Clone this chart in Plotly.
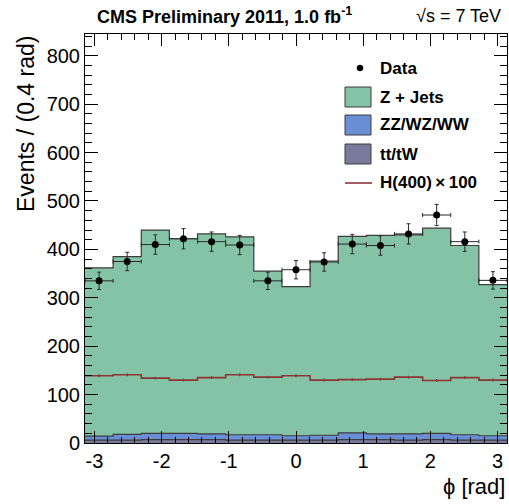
import numpy as np
import plotly.graph_objects as go

# 15 bins in phi over [-pi, pi]
n_bins = 15
edges = np.linspace(-np.pi, np.pi, n_bins + 1)
centers = 0.5 * (edges[:-1] + edges[1:])
half_w = 0.5 * (edges[1] - edges[0])

# Observed events per bin and their statistical errors
data_counts = [335, 375, 410, 422, 416, 409, 335, 358, 374, 411, 408, 432, 471, 416, 336]
data_errors = [18, 19, 20, 21, 20, 20, 18, 19, 19, 20, 20, 21, 22, 20, 18]

# Background predictions per bin
ttbar_tw = [6, 6, 7, 7, 7, 6, 6, 6, 6, 7, 7, 6, 7, 6, 6]
diboson = [8, 12, 13, 13, 12, 11, 11, 9, 10, 14, 12, 13, 13, 11, 9]
z_jets = [348, 367, 420, 402, 413, 409, 338, 308, 360, 406, 410, 411, 424, 391, 312]

# Higgs (m = 400 GeV) signal, scaled by 100
higgs_x100 = [139, 141, 134, 130, 135, 141, 136, 139, 130, 131, 132, 136, 129, 135, 130]
higgs_err = [3, 3, 3, 3, 3, 3, 3, 3, 3, 3, 3, 3, 3, 3, 3]

# Axis tick labels
x_tick_vals = [-3, -2, -1, 0, 1, 2, 3]
x_tick_text = ["-3", "-2", "-1", "0", "1", "2", "3"]

labels = ["Data", "Z + Jets", "ZZ/WZ/WW", "tt/tW", "H(400)\u2009\u00d7\u2009100"]

C_ZJ = "#84c3a5"
C_VV = "#6b8fd6"
C_TT = "#7a7a9c"
C_H = "#8b3535"
C_EDGE = "#3c3c3c"

FONT = "Liberation Sans, Arial, Helvetica, sans-serif"

lvl_tt = np.array(ttbar_tw, dtype=float)
lvl_vv = lvl_tt + np.array(diboson)
lvl_zj = lvl_vv + np.array(z_jets)


def step_y(vals):
    v = list(vals)
    return v + [v[-1]]


fig = go.Figure()

# Stacked histograms, drawn from the total downwards
for lvl, col in [(lvl_zj, C_ZJ), (lvl_vv, C_VV), (lvl_tt, C_TT)]:
    fig.add_trace(go.Scatter(
        x=edges, y=step_y(lvl), mode="lines", line_shape="hv",
        line=dict(color=C_EDGE, width=1.2), fill="tozeroy", fillcolor=col,
        showlegend=False, hoverinfo="skip"))

# Signal histogram with its statistical error ticks
fig.add_trace(go.Scatter(
    x=edges, y=step_y(higgs_x100), mode="lines", line_shape="hv",
    line=dict(color=C_H, width=1.6), showlegend=False, hoverinfo="skip"))
fig.add_trace(go.Scatter(
    x=centers, y=higgs_x100, mode="markers", marker=dict(size=1, color=C_H, opacity=0),
    error_y=dict(type="data", array=higgs_err, color=C_H, thickness=1.2, width=0),
    showlegend=False, hoverinfo="skip"))

# Data points
fig.add_trace(go.Scatter(
    x=centers, y=data_counts, mode="markers",
    marker=dict(size=7, color="black"),
    error_y=dict(type="data", array=data_errors, color="#2a2a2a", thickness=1, width=2),
    error_x=dict(type="data", array=[half_w] * n_bins, color="#2a2a2a", thickness=1, width=2),
    showlegend=False))

# Plot-area geometry in pixels, used to place the text and legend
L, R, T, B = 85, 2, 34, 61
W, H = 509, 504
pw, ph = W - L - R, H - T - B


def px(x):
    return (x - L) / pw


def py(y):
    return (H - B - y) / ph


shapes = []
annotations = []

# Legend
rows_y = [68, 97, 125, 154, 183]
text_x = 378
shapes.append(dict(type="circle", xref="paper", yref="paper",
                   x0=px(357), x1=px(363), y0=py(rows_y[0] + 3), y1=py(rows_y[0] - 3),
                   fillcolor="black", line=dict(color="black", width=0.5)))
for yc, col in zip(rows_y[1:4], [C_ZJ, C_VV, C_TT]):
    shapes.append(dict(type="rect", xref="paper", yref="paper",
                       x0=px(345), x1=px(371), y0=py(yc + 10), y1=py(yc - 10),
                       fillcolor=col, line=dict(color=C_EDGE, width=1)))
shapes.append(dict(type="line", xref="paper", yref="paper",
                   x0=px(345), x1=px(372), y0=py(rows_y[4]), y1=py(rows_y[4]),
                   line=dict(color=C_H, width=1.6)))
for yc, lab in zip(rows_y, labels):
    annotations.append(dict(x=px(text_x), y=py(yc), xref="paper", yref="paper",
                            text="<b>" + lab + "</b>", showarrow=False,
                            font=dict(size=17, color="black", family=FONT),
                            xanchor="left", yanchor="middle"))

# Header texts
annotations.append(dict(x=px(95), y=py(16), xref="paper", yref="paper",
                        text="<b>CMS Preliminary 2011, 1.0 fb<sup>-1</sup></b>", showarrow=False,
                        font=dict(size=18, color="black", family=FONT),
                        xanchor="left", yanchor="middle"))
annotations.append(dict(x=px(503), y=py(16), xref="paper", yref="paper",
                        text="\u221as = 7 TeV", showarrow=False,
                        font=dict(size=18, color="black", family=FONT),
                        xanchor="right", yanchor="middle"))

# Axis titles
annotations.append(dict(x=px(26), y=py(34), xref="paper", yref="paper",
                        text="Events / (0.4 rad)", textangle=-90, showarrow=False,
                        font=dict(size=23, color="black", family=FONT),
                        xanchor="center", yanchor="top"))
annotations.append(dict(x=px(507), y=py(486), xref="paper", yref="paper",
                        text="\u03d5 [rad]", showarrow=False,
                        font=dict(size=22, color="black", family=FONT),
                        xanchor="right", yanchor="middle"))

fig.update_layout(
    width=W, height=H,
    margin=dict(l=L, r=R, t=T, b=B),
    paper_bgcolor="white", plot_bgcolor="white",
    font=dict(family=FONT, color="black", size=20),
    shapes=shapes, annotations=annotations,
    showlegend=False,
)
fig.update_xaxes(
    range=[-np.pi, np.pi], tickmode="array", tickvals=x_tick_vals, ticktext=x_tick_text,
    ticks="inside", ticklen=12, tickcolor="black", tickwidth=1,
    minor=dict(dtick=0.2, tick0=0, ticks="inside", ticklen=6, tickcolor="black", tickwidth=1),
    showline=True, linecolor="black", linewidth=1, mirror="allticks",
    showgrid=False, zeroline=False, tickfont=dict(size=20),
)
fig.update_yaxes(
    range=[0, 845], tickmode="linear", tick0=0, dtick=100,
    ticks="inside", ticklen=13, tickcolor="black", tickwidth=1,
    minor=dict(dtick=20, tick0=0, ticks="inside", ticklen=7, tickcolor="black", tickwidth=1),
    showline=True, linecolor="black", linewidth=1, mirror="allticks",
    showgrid=False, zeroline=False, tickfont=dict(size=20),
)

fig.write_html("out.html")
